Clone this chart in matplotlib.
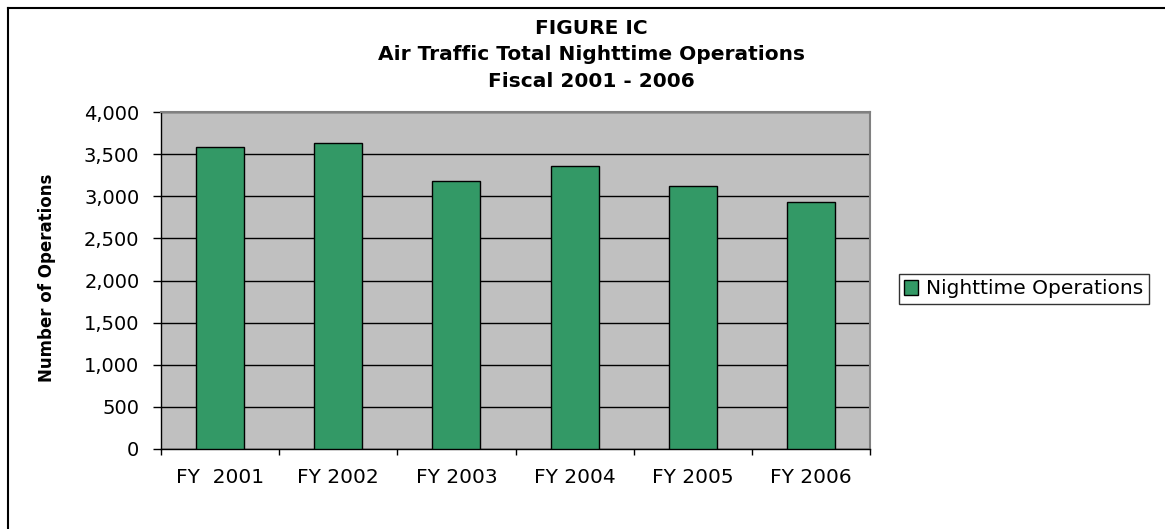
import matplotlib
matplotlib.use("Agg")
import matplotlib.pyplot as plt
from matplotlib.patches import Patch
from matplotlib.lines import Line2D
from matplotlib.ticker import FuncFormatter, MultipleLocator

plt.rcParams['font.family'] = ['DejaVu Sans']

categories = ["FY  2001", "FY 2002", "FY 2003", "FY 2004", "FY 2005", "FY 2006"]
values = [3590, 3630, 3180, 3355, 3125, 2930]
series_name = "Nighttime Operations"
title_lines = ["FIGURE IC", "Air Traffic Total Nighttime Operations", "Fiscal 2001 - 2006"]

W, H = 1165, 529
fig = plt.figure(figsize=(W/100, H/100), dpi=100)
L, R, T, B = 161, 870, 112, 449
ax = fig.add_axes([L/W, 1-B/H, (R-L)/W, (B-T)/H])
ax.set_facecolor('#C0C0C0')

x = list(range(len(categories)))
ax.bar(x, values, width=0.405, color='#339966', edgecolor='black', linewidth=1.0, zorder=3)

ax.set_xlim(-0.5, len(categories) - 0.5)
ax.set_ylim(0, 4000)
ax.yaxis.set_major_locator(MultipleLocator(500))
ax.yaxis.set_major_formatter(FuncFormatter(lambda v, p: f"{int(v):,}"))
ax.grid(axis='y', color='black', linewidth=1.0, zorder=1)
ax.set_axisbelow(True)

ax.set_xticks(x)
ax.set_xticklabels(categories, fontsize=14.5)
ax.set_xticks([i + 0.5 for i in range(-1, len(categories))], minor=True)
ax.tick_params(axis='x', which='major', length=0, pad=14)
ax.tick_params(axis='x', which='minor', length=4.5, width=1, direction='out')
ax.tick_params(axis='y', length=5.5, width=1, direction='out', labelsize=14, pad=10)

for s in ['top', 'right']:
    ax.spines[s].set_color('#808080')
    ax.spines[s].set_linewidth(1.5)
for s in ['left', 'bottom']:
    ax.spines[s].set_color('black')
    ax.spines[s].set_linewidth(1.0)

ax.set_ylabel("Number of Operations", fontsize=12, fontweight='bold')
ax.yaxis.set_label_coords((56 - L) / (R - L), (B - 278) / (B - T))

baselines = [34, 60, 87]
for t, yy in zip(title_lines, baselines):
    fig.text(591/W, 1 - yy/H, t, ha='center', va='baseline', fontsize=14.5, fontweight='bold')

handle = Patch(facecolor='#339966', edgecolor='black', linewidth=1.0)
leg = fig.legend([handle], [series_name], loc='center', bbox_to_anchor=(1024/W, 1 - 289/H),
                 fontsize=14.5, frameon=True, fancybox=False, edgecolor='black',
                 handlelength=0.7, handleheight=0.7, handletextpad=0.4, borderpad=0.25,
                 borderaxespad=0)
leg.get_frame().set_linewidth(1.0)

# outer chart border (left and top visible)
fig.add_artist(Line2D([8/W, 8/W], [0, 1 - 8/H], transform=fig.transFigure, color='black', linewidth=1.5))
fig.add_artist(Line2D([8/W, 1], [1 - 8/H, 1 - 8/H], transform=fig.transFigure, color='black', linewidth=1.5))

fig.savefig("out.png", dpi=100)
